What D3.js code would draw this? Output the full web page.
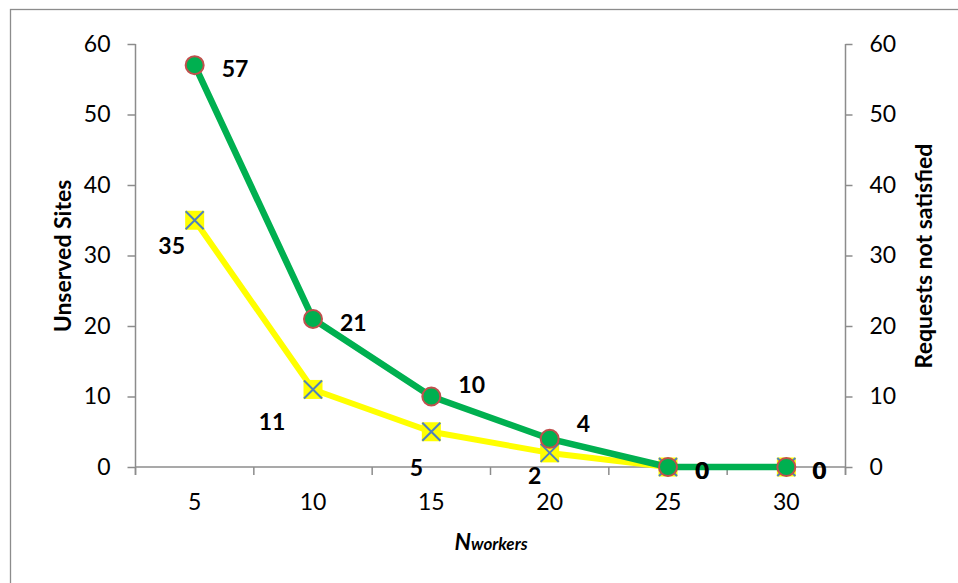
<!DOCTYPE html>
<html>
<head>
<meta charset="utf-8">
<script src="https://cdn.jsdelivr.net/npm/d3@7"></script>
<style>
  html, body { margin: 0; padding: 0; background: #fff; }
  svg { display: block; }
  text { font-family: Lato, "Open Sans", sans-serif; }
</style>
</head>
<body>
<svg id="chart" width="958" height="583"></svg>
<script>
// ---- data ----
const categories = [5, 10, 15, 20, 25, 30];
const unservedSites = [57, 21, 10, 4, 0, 0];        // green, circles
const requestsNotSatisfied = [35, 11, 5, 2, 0, 0];  // yellow, crosses
const yTicks = [0, 10, 20, 30, 40, 50, 60];
const leftTitle = "Unserved Sites";
const rightTitle = "Requests not satisfied";

// ---- label placement (layout, not data) ----
const greenLabelDx = [27, 27, 27, 27, 27, 26];
const greenLabelDy = [3, 3, -13, -16, 3, 3];
const yellowLabelDx = [-23, -41, -15, -15, 28, 27];
const yellowLabelDy = [25, 32, 35, 22, 3, 3];

// ---- layout ----
const svg = d3.select("#chart");
const plotLeft = 135.5, plotRight = 845.5, plotTop = 44, plotBottom = 467;
const axisColor = "#8c8c8c";

svg.append("rect")
  .attr("x", 10.5).attr("y", 9.5).attr("width", 980).attr("height", 620)
  .attr("fill", "#fff").attr("stroke", "#8c8c8c").attr("stroke-width", 1.3);

const x = d3.scaleBand().domain(categories).range([plotLeft, plotRight]).padding(0);
const y = d3.scaleLinear().domain([0, 60]).range([plotBottom, plotTop]);
const cx = d => x(d) + x.bandwidth() / 2;

// left axis
const gl = svg.append("g").attr("transform", `translate(${plotLeft},0)`)
  .call(d3.axisLeft(y).tickValues(yTicks).tickSize(8).tickPadding(17));
// right axis
const gr = svg.append("g").attr("transform", `translate(${plotRight},0)`)
  .call(d3.axisRight(y).tickValues(yTicks).tickSize(7).tickPadding(17));
[gl, gr].forEach(g => {
  g.select(".domain").attr("stroke", axisColor).attr("stroke-width", 1.5)
    .attr("d", `M0,${plotTop}V${plotBottom + 8}`);
  g.selectAll(".tick line").attr("stroke", axisColor).attr("stroke-width", 1.5);
  g.selectAll(".tick text").attr("font-size", 23).attr("fill", "#000")
    .attr("font-family", "Lato, 'Open Sans', sans-serif");
});

// x axis
const gx = svg.append("g").attr("transform", `translate(0,${plotBottom})`)
  .call(d3.axisBottom(x).tickSize(0).tickPadding(27));
gx.select(".domain").attr("stroke", axisColor).attr("stroke-width", 1.5)
  .attr("d", `M${plotLeft},0H${plotRight}`);
gx.selectAll(".tick text").attr("font-size", 23).attr("fill", "#000")
  .attr("font-family", "Lato, 'Open Sans', sans-serif");
// boundary ticks between categories
const bounds = categories.map(c => x(c)).concat([x(categories[categories.length - 1]) + x.bandwidth()]);
gx.selectAll("line.bound").data(bounds).enter().append("line")
  .attr("class", "bound")
  .attr("x1", d => d).attr("x2", d => d).attr("y1", 0).attr("y2", 8)
  .attr("stroke", axisColor).attr("stroke-width", 1.5);

// lines
const line = d3.line().x((d, i) => cx(categories[i])).y(d => y(d));

svg.append("path").datum(requestsNotSatisfied)
  .attr("d", line).attr("fill", "none").attr("stroke", "#FFFF00")
  .attr("stroke-width", 6).attr("stroke-linejoin", "round");

// yellow markers: yellow square with blue X
const ym = svg.append("g").selectAll("g").data(requestsNotSatisfied).enter().append("g")
  .attr("transform", (d, i) => `translate(${cx(categories[i])},${y(d)})`);
ym.append("rect").attr("x", -9.5).attr("y", -9.5).attr("width", 19).attr("height", 19)
  .attr("fill", "#FFFF00");
ym.append("path").attr("d", "M-9,-9L9,9M-9,9L9,-9")
  .attr("stroke", "#4F81BD").attr("stroke-width", 2);

svg.append("path").datum(unservedSites)
  .attr("d", line).attr("fill", "none").attr("stroke", "#00B050")
  .attr("stroke-width", 6.5).attr("stroke-linejoin", "round");

svg.append("g").selectAll("circle").data(unservedSites).enter().append("circle")
  .attr("cx", (d, i) => cx(categories[i])).attr("cy", d => y(d)).attr("r", 9)
  .attr("fill", "#00B050").attr("stroke", "#C0504D").attr("stroke-width", 2);

// data labels
svg.append("g").selectAll("text").data(requestsNotSatisfied).enter().append("text")
  .attr("x", (d, i) => cx(categories[i]) + yellowLabelDx[i])
  .attr("y", (d, i) => y(d) + yellowLabelDy[i])
  .attr("text-anchor", (d, i) => yellowLabelDx[i] > 0 ? "start" : "middle")
  .attr("dominant-baseline", "central")
  .attr("font-size", 23).attr("font-weight", "bold").attr("fill", "#000")
  .text(d => d);

svg.append("g").selectAll("text").data(unservedSites).enter().append("text")
  .attr("x", (d, i) => cx(categories[i]) + greenLabelDx[i])
  .attr("y", (d, i) => y(d) + greenLabelDy[i])
  .attr("text-anchor", "start")
  .attr("dominant-baseline", "central")
  .attr("font-size", 23).attr("font-weight", "bold").attr("fill", "#000")
  .text(d => d);

// axis titles
svg.append("text")
  .attr("transform", `translate(71,256) rotate(-90)`)
  .attr("text-anchor", "middle")
  .attr("font-size", 23).attr("font-weight", "bold").attr("fill", "#000")
  .text(leftTitle);

svg.append("text")
  .attr("transform", `translate(932,256) rotate(-90)`)
  .attr("text-anchor", "middle")
  .attr("font-size", 23).attr("font-weight", "bold").attr("fill", "#000")
  .text(rightTitle);

const xt = svg.append("text")
  .attr("x", 491).attr("y", 550).attr("text-anchor", "middle")
  .attr("font-weight", "bold").attr("font-style", "italic").attr("fill", "#000");
xt.append("tspan").attr("font-size", 23).text("N");
xt.append("tspan").attr("font-size", 17).text("workers");
</script>
</body>
</html>
